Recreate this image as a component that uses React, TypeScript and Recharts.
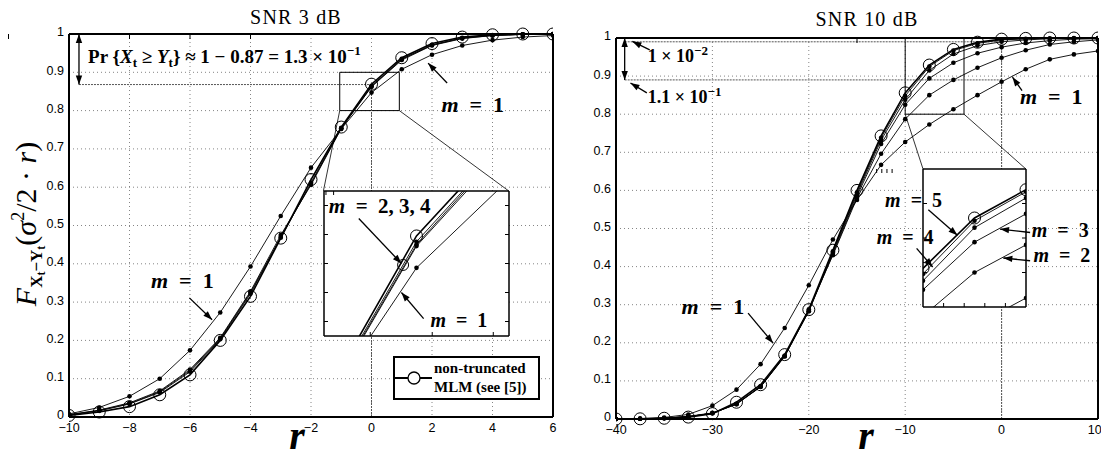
import React from 'react';
import {
  LineChart,
  Line,
  XAxis,
  YAxis,
  CartesianGrid,
  ReferenceLine,
  ReferenceArea,
  ReferenceDot,
  Legend,
} from 'recharts';

// ---- SNR 3 dB ----
const rLow = [-10, -9, -8, -7, -6, -5, -4, -3, -2, -1, 0, 1, 2, 3, 4, 5, 6];
const ntLow = [0.004, 0.013, 0.027, 0.058, 0.11, 0.2, 0.315, 0.467, 0.62, 0.757, 0.869, 0.938, 0.975, 0.992, 0.998, 1, 1];
const m4Low = [0.005, 0.016, 0.034, 0.064, 0.118, 0.203, 0.322, 0.468, 0.612, 0.755, 0.865, 0.935, 0.972, 0.99, 0.997, 0.999, 1];
const m3Low = [0.006, 0.017, 0.035, 0.066, 0.121, 0.205, 0.325, 0.47, 0.609, 0.754, 0.863, 0.934, 0.971, 0.989, 0.996, 0.999, 1];
const m2Low = [0.006, 0.018, 0.037, 0.068, 0.124, 0.207, 0.328, 0.475, 0.606, 0.753, 0.862, 0.932, 0.97, 0.988, 0.996, 0.999, 1];
const m1Low = [0.008, 0.025, 0.054, 0.1, 0.174, 0.273, 0.393, 0.525, 0.651, 0.752, 0.847, 0.908, 0.946, 0.97, 0.984, 0.992, 0.996];
const lowXTicks = [-10, -8, -6, -4, -2, 0, 2, 4, 6];
const lowInsetXTicks = [-0.5, 0.17, 0.83];
const lowInsetYTicks = [0.81, 0.83, 0.85, 0.87, 0.89];
// stray marker seen inside the 3 dB zoom box
const lowInsetCircle = { r: -0.145, F: 0.849 };

// ---- SNR 10 dB ----
const rHigh = [-40, -37.5, -35, -32.5, -30, -27.5, -25, -22.5, -20, -17.5, -15, -12.5, -10, -7.5, -5, -2.5, 0, 2.5, 5, 7.5, 10];
const ntHigh = [0, 0.0005, 0.002, 0.005, 0.014, 0.044, 0.09, 0.169, 0.287, 0.443, 0.6, 0.743, 0.856, 0.929, 0.97, 0.989, 0.997, 0.999, 1, 1, 1];
const m5High = [0, 0.0005, 0.002, 0.006, 0.015, 0.04, 0.086, 0.166, 0.284, 0.44, 0.595, 0.738, 0.848, 0.925, 0.967, 0.986, 0.995, 0.998, 0.999, 1, 1];
const m4High = [0, 0.0005, 0.002, 0.006, 0.015, 0.039, 0.085, 0.165, 0.283, 0.437, 0.59, 0.732, 0.838, 0.915, 0.958, 0.98, 0.99, 0.995, 0.998, 0.999, 1];
const m3High = [0, 0.0005, 0.002, 0.006, 0.015, 0.039, 0.084, 0.164, 0.283, 0.433, 0.585, 0.722, 0.825, 0.894, 0.935, 0.96, 0.976, 0.987, 0.993, 0.997, 0.998];
const m2High = [0, 0.0006, 0.002, 0.007, 0.016, 0.04, 0.085, 0.166, 0.288, 0.43, 0.58, 0.696, 0.787, 0.85, 0.89, 0.922, 0.948, 0.968, 0.983, 0.99, 0.995];
const m1High = [0, 0.001, 0.004, 0.012, 0.035, 0.077, 0.144, 0.239, 0.351, 0.471, 0.575, 0.667, 0.727, 0.773, 0.813, 0.85, 0.885, 0.918, 0.944, 0.957, 0.966];
const highXTicks = [-40, -30, -20, -10, 0, 10];
const highInsetXTicks = [-9, -8, -7, -6];
const highInsetYTicks = [0.85, 0.9, 0.95];

const yTicks = [0, 0.1, 0.2, 0.3, 0.4, 0.5, 0.6, 0.7, 0.8, 0.9, 1];

const lowData = rLow.map((r, i) => ({ r, nt: ntLow[i], m1: m1Low[i], m2: m2Low[i], m3: m3Low[i], m4: m4Low[i] }));
const highData = rHigh.map((r, i) => ({
  r, nt: ntHigh[i], m1: m1High[i], m2: m2High[i], m3: m3High[i], m4: m4High[i], m5: m5High[i],
}));

const SERIF = '"Liberation Serif", "Times New Roman", serif';
const SANS = '"Liberation Sans", Arial, Helvetica, sans-serif';

const minus = (v: number) => String(v).replace('-', '\u2212');
const yFmt = (v: number) => (v === 0 || v === 1 ? String(v) : v.toFixed(1));
const blank = () => '';

const tickStyle = { fill: '#000', fontSize: 12.5, fontFamily: SANS };
const yTickStyle = { ...tickStyle, dy: -2 };
const frame = { stroke: '#000', strokeWidth: 2 };
const thinFrame = { stroke: '#000', strokeWidth: 1.5 };
const smallDot = { r: 2.3, fill: '#000', stroke: '#000', strokeWidth: 0 };

const OpenCircle = (props: any) => {
  const { cx, cy } = props;
  if (cx == null || cy == null) return <g />;
  return <circle cx={cx} cy={cy} r={6} fill="none" stroke="#000" strokeWidth={1} />;
};

const headPoints = (tx: number, ty: number, fx: number, fy: number) => {
  const a = Math.atan2(ty - fy, tx - fx);
  const L = 9;
  const W = 3.2;
  const bx = tx - L * Math.cos(a);
  const by = ty - L * Math.sin(a);
  const px = -Math.sin(a) * W;
  const py = Math.cos(a) * W;
  return `${tx},${ty} ${bx + px},${by + py} ${bx - px},${by - py}`;
};

const arrow = (both: boolean) => (p: any) => {
  const { x1, y1, x2, y2 } = p;
  if ([x1, y1, x2, y2].some((v) => v == null || Number.isNaN(v))) return <g />;
  return (
    <g>
      <line x1={x1} y1={y1} x2={x2} y2={y2} stroke="#000" strokeWidth={1.3} />
      <polygon points={headPoints(x2, y2, x1, y1)} fill="#000" />
      {both && <polygon points={headPoints(x1, y1, x2, y2)} fill="#000" />}
    </g>
  );
};

const mLabel = (value: string, size: number) => (p: any) => (
  <text x={p.cx} y={p.cy} fontFamily={SERIF} fontWeight="bold" fontSize={size} fill="#000">
    <tspan fontStyle="italic">m</tspan>
    {`\u2002=\u2002${value}`}
  </text>
);

const sciLabel = (mant: string, exp: string) => (p: any) => (
  <text x={p.cx} y={p.cy} fontFamily={SERIF} fontWeight="bold" fontSize={18} fill="#000">
    {`${mant} \u00d7 10`}
    <tspan fontSize={13} dy={-7}>{exp}</tspan>
  </text>
);

const prLabel = (p: any) => (
  <text x={p.cx} y={p.cy} fontFamily={SERIF} fontWeight="bold" fontSize={19} fill="#000">
    {'Pr {'}
    <tspan fontStyle="italic">X</tspan>
    <tspan fontSize={13} dy={4}>t</tspan>
    <tspan dy={-4}>{' \u2265 '}</tspan>
    <tspan fontStyle="italic">Y</tspan>
    <tspan fontSize={13} dy={4}>t</tspan>
    <tspan dy={-4}>{'} \u2248 1 \u2212 0.87 = 1.3 \u00d7 10'}</tspan>
    <tspan fontSize={13} dy={-8}>{'\u22121'}</tspan>
  </text>
);

const xLabel = (cx: number) => () => (
  <text x={cx} y={449} textAnchor="middle" fontFamily={SERIF} fontStyle="italic" fontWeight="bold" fontSize={40} fill="#000">
    r
  </text>
);

const yLabel = () => (
  <text transform="rotate(-90 36 224)" x={36} y={224} textAnchor="middle" fontFamily={SERIF} fill="#000">
    <tspan fontStyle="italic" fontSize={30}>F</tspan>
    <tspan fontSize={17} fontWeight="bold" dy={6}>X</tspan>
    <tspan fontSize={12} fontWeight="bold" dy={3}>t</tspan>
    <tspan fontSize={17} fontWeight="bold" dy={-3}>{'\u2212Y'}</tspan>
    <tspan fontSize={12} fontWeight="bold" dy={3}>t</tspan>
    <tspan fontSize={30} dy={-9}>(</tspan>
    <tspan fontSize={30} fontStyle="italic">σ</tspan>
    <tspan fontSize={18} dy={-12}>2</tspan>
    <tspan fontSize={30} dy={12}>{'/2 \u00b7 '}</tspan>
    <tspan fontSize={30} fontStyle="italic">r</tspan>
    <tspan fontSize={30}>)</tspan>
  </text>
);

const LegendBox = () => (
  <div
    style={{
      width: 147,
      height: 44,
      boxSizing: 'border-box',
      border: '2px solid #000',
      background: '#fff',
      display: 'flex',
      alignItems: 'center',
    }}
  >
    <svg width={37} height={20}>
      <line x1={0} y1={10} x2={37} y2={10} stroke="#000" strokeWidth={2} />
      <circle cx={19} cy={10} r={6} fill="#fff" stroke="#000" strokeWidth={1.3} />
    </svg>
    <div style={{ fontFamily: SERIF, fontWeight: 'bold', fontSize: 15, lineHeight: '19px', marginLeft: 2 }}>
      non-truncated
      <br />
      MLM (see [5])
    </div>
  </div>
);

const titleStyle: React.CSSProperties = {
  position: 'absolute',
  width: 200,
  textAlign: 'center',
  fontFamily: SERIF,
  fontSize: 20,
  lineHeight: '22px',
  letterSpacing: 1.2,
};

const darkDots = { stroke: '#555', strokeDasharray: '2 1', strokeWidth: 1 };

export default function App() {
  return (
    <div style={{ position: 'absolute', left: 0, top: 0, width: 1101, height: 458, background: '#fff', overflow: 'hidden' }}>
      <div style={{ ...titleStyle, left: 196, top: 6 }}>SNR 3 dB</div>
      <div style={{ ...titleStyle, left: 767, top: 8 }}>SNR 10 dB</div>

      {/* SNR 3 dB */}
      <div style={{ position: 'absolute', left: 0, top: 0 }}>
        <LineChart width={560} height={458} data={lowData} margin={{ top: 34, right: 7, bottom: 11, left: 29 }}>
          <CartesianGrid stroke="#777" strokeDasharray="1 3" strokeWidth={0.9} />
          <XAxis dataKey="r" type="number" domain={[-10, 6]} ticks={lowXTicks} allowDataOverflow tickLine={false}
            tickSize={0} tickMargin={6} height={30} axisLine={frame} tick={tickStyle} tickFormatter={minus} label={xLabel(297)} />
          <XAxis xAxisId="top" orientation="top" mirror type="number" domain={[-10, 6]} ticks={lowXTicks}
            tickSize={5} tickLine={{ stroke: '#000' }} axisLine={frame} tickFormatter={blank} />
          <YAxis type="number" domain={[0, 1]} ticks={yTicks} width={40} tickLine={false} tickSize={0} tickMargin={5}
            axisLine={frame} tick={yTickStyle} tickFormatter={yFmt} label={yLabel} />
          <YAxis yAxisId="right" orientation="right" mirror type="number" domain={[0, 1]} ticks={yTicks}
            tickSize={5} tickLine={{ stroke: '#000' }} axisLine={frame} tickFormatter={blank} />

          <ReferenceLine segment={[{ x: -9.67, y: 0.868 }, { x: 0, y: 0.868 }]} {...darkDots} ifOverflow="visible" />
          <ReferenceLine segment={[{ x: 0, y: 0 }, { x: 0, y: 0.868 }]} {...darkDots} ifOverflow="visible" />

          <Line dataKey="m1" stroke="#000" strokeWidth={0.9} dot={smallDot} activeDot={false} isAnimationActive={false} legendType="none" />
          <Line dataKey="m2" stroke="#000" strokeWidth={0.9} dot={smallDot} activeDot={false} isAnimationActive={false} legendType="none" />
          <Line dataKey="m3" stroke="#000" strokeWidth={0.9} dot={smallDot} activeDot={false} isAnimationActive={false} legendType="none" />
          <Line dataKey="m4" stroke="#000" strokeWidth={0.9} dot={smallDot} activeDot={false} isAnimationActive={false} legendType="none" />
          <Line dataKey="nt" name="non-truncated MLM (see [5])" stroke="#000" strokeWidth={1.6} dot={OpenCircle}
            activeDot={false} isAnimationActive={false} />

          <ReferenceLine segment={[{ x: -9.67, y: 1 }, { x: -9.67, y: 0.868 }]} ifOverflow="visible" shape={arrow(true)} />
          <ReferenceDot x={-9.37} y={0.924} r={0} ifOverflow="visible" shape={prLabel} />

          <ReferenceArea x1={-1.05} x2={0.92} y1={0.8} y2={0.9} fill="none" stroke="#000" strokeWidth={1} ifOverflow="visible" />
          <ReferenceLine segment={[{ x: -1.05, y: 0.8 }, { x: -1.59, y: 0.59 }]} stroke="#000" strokeWidth={0.8} ifOverflow="visible" />
          <ReferenceLine segment={[{ x: 0.92, y: 0.8 }, { x: 4.54, y: 0.59 }]} stroke="#000" strokeWidth={0.8} ifOverflow="visible" />

          <ReferenceDot x={2.31} y={0.797} r={0} ifOverflow="visible" shape={mLabel('1', 22)} />
          <ReferenceLine segment={[{ x: 2.5, y: 0.872 }, { x: 1.87, y: 0.924 }]} ifOverflow="visible" shape={arrow(false)} />
          <ReferenceDot x={-7.29} y={0.337} r={0} ifOverflow="visible" shape={mLabel('1', 22)} />
          <ReferenceLine segment={[{ x: -6.02, y: 0.311 }, { x: -5.27, y: 0.254 }]} ifOverflow="visible" shape={arrow(false)} />

          <Legend layout="horizontal" verticalAlign="middle" align="center"
            wrapperStyle={{ left: 393, top: 356, width: 147, height: 44 }} content={LegendBox} />
        </LineChart>
      </div>

      {/* SNR 3 dB zoom box */}
      <div style={{ position: 'absolute', left: 322, top: 189 }}>
        <LineChart width={189} height={149} data={lowData} margin={{ top: 2, right: 2, bottom: 2, left: 2 }}>
          <CartesianGrid horizontal={false} vertical={false} fill="#fff" />
          <XAxis dataKey="r" type="number" domain={[-1, 1]} allowDataOverflow mirror ticks={lowInsetXTicks}
            tickSize={4} tickLine={{ stroke: '#000' }} axisLine={thinFrame} tickFormatter={blank} />
          <XAxis xAxisId="top" orientation="top" mirror type="number" domain={[-1, 1]} allowDataOverflow ticks={lowInsetXTicks}
            tickSize={4} tickLine={{ stroke: '#000' }} axisLine={thinFrame} tickFormatter={blank} />
          <YAxis type="number" domain={[0.8, 0.9]} allowDataOverflow mirror ticks={lowInsetYTicks}
            tickSize={4} tickLine={{ stroke: '#000' }} axisLine={thinFrame} tickFormatter={blank} />
          <YAxis yAxisId="right" orientation="right" mirror type="number" domain={[0.8, 0.9]} allowDataOverflow ticks={lowInsetYTicks}
            tickSize={4} tickLine={{ stroke: '#000' }} axisLine={thinFrame} tickFormatter={blank} />
          <Line dataKey="m1" stroke="#000" strokeWidth={0.9} dot={smallDot} activeDot={false} isAnimationActive={false} />
          <Line dataKey="m2" stroke="#000" strokeWidth={0.9} dot={smallDot} activeDot={false} isAnimationActive={false} />
          <Line dataKey="m3" stroke="#000" strokeWidth={0.9} dot={smallDot} activeDot={false} isAnimationActive={false} />
          <Line dataKey="m4" stroke="#000" strokeWidth={0.9} dot={smallDot} activeDot={false} isAnimationActive={false} />
          <Line dataKey="nt" stroke="#000" strokeWidth={1.6} dot={OpenCircle} activeDot={false} isAnimationActive={false} />
          <ReferenceDot x={lowInsetCircle.r} y={lowInsetCircle.F} r={5.5} fill="none" stroke="#000" strokeWidth={1} ifOverflow="visible" />

          <ReferenceDot x={-0.948} y={0.885} r={0} ifOverflow="visible" shape={mLabel('2, 3, 4', 21)} />
          <ReferenceLine segment={[{ x: -0.624, y: 0.881 }, { x: -0.163, y: 0.85 }]} ifOverflow="visible" shape={arrow(false)} />
          <ReferenceDot x={0.15} y={0.8059} r={0} ifOverflow="visible" shape={mLabel('1', 20)} />
          <ReferenceLine segment={[{ x: 0.077, y: 0.812 }, { x: -0.163, y: 0.83 }]} ifOverflow="visible" shape={arrow(false)} />
        </LineChart>
      </div>

      {/* SNR 10 dB */}
      <div style={{ position: 'absolute', left: 550, top: 0 }}>
        <LineChart width={551} height={458} data={highData} margin={{ top: 38, right: 3, bottom: 9, left: 26 }}>
          <CartesianGrid stroke="#777" strokeDasharray="1 3" strokeWidth={0.9} />
          <XAxis dataKey="r" type="number" domain={[-40, 10]} ticks={highXTicks} allowDataOverflow tickLine={false}
            tickSize={0} tickMargin={6} height={30} axisLine={frame} tick={tickStyle} tickFormatter={minus} label={xLabel(316)} />
          <XAxis xAxisId="top" orientation="top" mirror type="number" domain={[-40, 10]} ticks={highXTicks}
            tickSize={5} tickLine={{ stroke: '#000' }} axisLine={frame} tickFormatter={blank} />
          <YAxis type="number" domain={[0, 1]} ticks={yTicks} width={40} tickLine={false} tickSize={0} tickMargin={5}
            axisLine={frame} tick={yTickStyle} tickFormatter={yFmt} />
          <YAxis yAxisId="right" orientation="right" mirror type="number" domain={[0, 1]} ticks={yTicks}
            tickSize={5} tickLine={{ stroke: '#000' }} axisLine={frame} tickFormatter={blank} />

          <ReferenceLine segment={[{ x: -39.1, y: 0.99 }, { x: 0, y: 0.99 }]} {...darkDots} ifOverflow="visible" />
          <ReferenceLine segment={[{ x: -39.1, y: 0.89 }, { x: 0, y: 0.89 }]} {...darkDots} ifOverflow="visible" />
          <ReferenceLine segment={[{ x: 0, y: 0 }, { x: 0, y: 1 }]} {...darkDots} ifOverflow="visible" />

          <Line dataKey="m1" stroke="#000" strokeWidth={0.9} dot={smallDot} activeDot={false} isAnimationActive={false} />
          <Line dataKey="m2" stroke="#000" strokeWidth={0.9} dot={smallDot} activeDot={false} isAnimationActive={false} />
          <Line dataKey="m3" stroke="#000" strokeWidth={0.9} dot={smallDot} activeDot={false} isAnimationActive={false} />
          <Line dataKey="m4" stroke="#000" strokeWidth={0.9} dot={smallDot} activeDot={false} isAnimationActive={false} />
          <Line dataKey="m5" stroke="#000" strokeWidth={0.9} dot={smallDot} activeDot={false} isAnimationActive={false} />
          <Line dataKey="nt" stroke="#000" strokeWidth={1.6} dot={OpenCircle} activeDot={false} isAnimationActive={false} />

          <ReferenceLine segment={[{ x: -39.1, y: 1 }, { x: -39.1, y: 0.89 }]} ifOverflow="visible" shape={arrow(true)} />
          <ReferenceDot x={-36.7} y={0.937} r={0} ifOverflow="visible" shape={sciLabel('1', '\u22122')} />
          <ReferenceLine segment={[{ x: -36.5, y: 0.969 }, { x: -38.3, y: 0.991 }]} ifOverflow="visible" shape={arrow(false)} />
          <ReferenceDot x={-36.7} y={0.829} r={0} ifOverflow="visible" shape={sciLabel('1.1', '\u22121')} />
          <ReferenceLine segment={[{ x: -36.8, y: 0.856 }, { x: -38.5, y: 0.882 }]} ifOverflow="visible" shape={arrow(false)} />

          <ReferenceArea x1={-10} x2={-3.9} y1={0.8} y2={1} fill="none" stroke="#000" strokeWidth={1} ifOverflow="visible" />
          <ReferenceLine segment={[{ x: -10, y: 0.8 }, { x: -8.15, y: 0.656 }]} stroke="#000" strokeWidth={0.8} ifOverflow="visible" />
          <ReferenceLine segment={[{ x: -3.9, y: 0.8 }, { x: 2.53, y: 0.656 }]} stroke="#000" strokeWidth={0.8} ifOverflow="visible" />

          <ReferenceDot x={1.9} y={0.827} r={0} ifOverflow="visible" shape={mLabel('1', 22)} />
          <ReferenceLine segment={[{ x: 2.12, y: 0.862 }, { x: 1.13, y: 0.897 }]} ifOverflow="visible" shape={arrow(false)} />
          <ReferenceDot x={-33.2} y={0.276} r={0} ifOverflow="visible" shape={mLabel('1', 22)} />
          <ReferenceLine segment={[{ x: -26.3, y: 0.278 }, { x: -23.7, y: 0.199 }]} ifOverflow="visible" shape={arrow(false)} />
        </LineChart>
      </div>

      {/* SNR 10 dB zoom box */}
      <div style={{ position: 'absolute', left: 870, top: 160 }}>
        <LineChart width={231} height={150} data={highData} margin={{ top: 9, right: 75, bottom: 3, left: 53 }}>
          <CartesianGrid horizontal={false} vertical={false} fill="#fff" />
          <XAxis dataKey="r" type="number" domain={[-10, -5]} allowDataOverflow mirror ticks={highInsetXTicks}
            tickSize={4} tickLine={{ stroke: '#000' }} axisLine={thinFrame} tickFormatter={blank} />
          <XAxis xAxisId="top" orientation="top" mirror type="number" domain={[-10, -5]} allowDataOverflow ticks={highInsetXTicks}
            tickSize={4} tickLine={{ stroke: '#000' }} axisLine={thinFrame} tickFormatter={blank} />
          <YAxis type="number" domain={[0.8, 1]} allowDataOverflow mirror ticks={highInsetYTicks}
            tickSize={4} tickLine={{ stroke: '#000' }} axisLine={thinFrame} tickFormatter={blank} />
          <YAxis yAxisId="right" orientation="right" mirror type="number" domain={[0.8, 1]} allowDataOverflow ticks={highInsetYTicks}
            tickSize={4} tickLine={{ stroke: '#000' }} axisLine={thinFrame} tickFormatter={blank} />
          <Line dataKey="m1" stroke="#000" strokeWidth={0.9} dot={smallDot} activeDot={false} isAnimationActive={false} />
          <Line dataKey="m2" stroke="#000" strokeWidth={0.9} dot={smallDot} activeDot={false} isAnimationActive={false} />
          <Line dataKey="m3" stroke="#000" strokeWidth={0.9} dot={smallDot} activeDot={false} isAnimationActive={false} />
          <Line dataKey="m4" stroke="#000" strokeWidth={0.9} dot={smallDot} activeDot={false} isAnimationActive={false} />
          <Line dataKey="m5" stroke="#000" strokeWidth={0.9} dot={smallDot} activeDot={false} isAnimationActive={false} />
          <Line dataKey="nt" stroke="#000" strokeWidth={1.6} dot={OpenCircle} activeDot={false} isAnimationActive={false} />

          <ReferenceDot x={-11.84} y={0.9445} r={0} ifOverflow="visible" shape={mLabel('5', 20)} />
          <ReferenceLine segment={[{ x: -9.74, y: 0.941 }, { x: -8.33, y: 0.904 }]} ifOverflow="visible" shape={arrow(false)} />
          <ReferenceDot x={-12.25} y={0.891} r={0} ifOverflow="visible" shape={mLabel('4', 20)} />
          <ReferenceLine segment={[{ x: -10.31, y: 0.885 }, { x: -9.53, y: 0.858 }]} ifOverflow="visible" shape={arrow(false)} />
          <ReferenceDot x={-4.72} y={0.902} r={0} ifOverflow="visible" shape={mLabel('3', 20)} />
          <ReferenceLine segment={[{ x: -4.8, y: 0.908 }, { x: -6.26, y: 0.913 }]} ifOverflow="visible" shape={arrow(false)} />
          <ReferenceDot x={-4.64} y={0.8657} r={0} ifOverflow="visible" shape={mLabel('2', 20)} />
          <ReferenceLine segment={[{ x: -4.8, y: 0.867 }, { x: -6.1, y: 0.871 }]} ifOverflow="visible" shape={arrow(false)} />
        </LineChart>
      </div>
    </div>
  );
}
